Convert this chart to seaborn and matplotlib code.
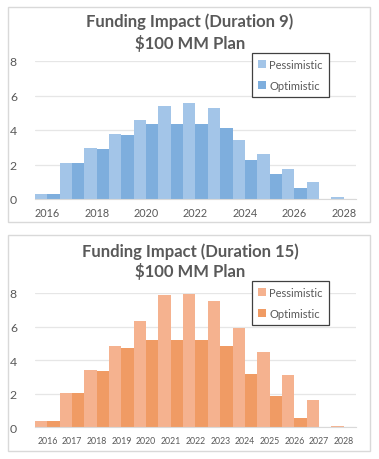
import pandas as pd
import seaborn as sns
import matplotlib.pyplot as plt
from matplotlib.patches import Rectangle

# Data
years = list(range(2016, 2029))

d9_pessimistic = [0.27, 2.10, 2.94, 3.77, 4.58, 5.40, 5.54, 5.25, 3.42, 2.60, 1.75, 0.96, 0.13]
d9_optimistic = [0.27, 2.10, 2.88, 3.69, 4.37, 4.37, 4.37, 4.10, 2.25, 1.46, 0.65, 0.0, 0.0]

d15_pessimistic = [0.36, 2.04, 3.39, 4.84, 6.31, 7.86, 7.94, 7.54, 5.89, 4.50, 3.10, 1.63, 0.08]
d15_optimistic = [0.36, 2.04, 3.33, 4.70, 5.22, 5.22, 5.22, 4.82, 3.18, 1.88, 0.54, 0.0, 0.0]

scenarios = ['Pessimistic', 'Optimistic']
titles = [('Funding Impact (Duration 9)', '$100 MM Plan'),
          ('Funding Impact (Duration 15)', '$100 MM Plan')]

blue = ['#a3c5e8', '#7eaedd']
orange = ['#f5b28f', '#f09b64']

sns.set_style('white')
plt.rcParams['font.family'] = ['Lato', 'DejaVu Sans']
text_color = '#595959'


def long_df(pess, opt):
    df = pd.DataFrame({'Year': years * 2,
                       'Value': pess + opt,
                       'Scenario': ['Pessimistic'] * len(years) + ['Optimistic'] * len(years)})
    df['Year'] = df['Year'].astype(str)
    return df


fig = plt.figure(figsize=(3.79, 4.60), dpi=100)
W, H = 379, 460

# chart borders (pixel boxes converted to figure fractions)
for top, bottom in [(8, 223), (236, 452)]:
    fig.patches.append(Rectangle((8 / W, 1 - bottom / H), 362 / W, (bottom - top) / H,
                                 transform=fig.transFigure, fill=False,
                                 edgecolor='#d9d9d9', linewidth=1))

# (data, palette, y of 0 line, y of 8 line, legend top, tick step, x tick size, title rows) in pixels
panels = [
    (long_df(d9_pessimistic, d9_optimistic), blue, 200, 62, 54, 2, 7.8, (22, 44)),
    (long_df(d15_pessimistic, d15_optimistic), orange, 428.3, 294, 282, 1, 6.3, (252, 272)),
]

for i, (df, pal, y0, y8, leg_top, step, xfs, title_y) in enumerate(panels):
    ax = fig.add_axes([35 / W, 1 - y0 / H, 321 / W, (y0 - y8) / H])
    sns.barplot(data=df, x='Year', y='Value', hue='Scenario', hue_order=scenarios,
                palette=pal, saturation=1, width=1.0, gap=0, linewidth=0, ax=ax)
    ax.set_xlim(-0.5, len(years) - 0.5)
    ax.set_ylim(0, 8)
    ax.set_yticks([0, 2, 4, 6, 8])
    ax.set_xticks(range(0, len(years), step))
    ax.set_xticklabels([str(y) for y in years][::step])
    ax.grid(axis='y', color='#e6e6e6', linewidth=0.9)
    ax.set_axisbelow(True)
    for s in ['top', 'right', 'left']:
        ax.spines[s].set_visible(False)
    ax.spines['bottom'].set_color('#d9d9d9')
    ax.set_xlabel('')
    ax.set_ylabel('')
    ax.tick_params(axis='y', length=0, pad=13, labelsize=8.8, labelcolor=text_color)
    ax.tick_params(axis='x', length=0, pad=6, labelsize=xfs, labelcolor=text_color)

    leg = ax.legend(loc='upper left',
                    bbox_to_anchor=((252 - 35) / 321, 1 + (y8 - leg_top) / (y0 - y8)),
                    frameon=True, fancybox=False, fontsize=8, handlelength=0.7,
                    handleheight=0.7, handletextpad=0.3, labelspacing=0.85,
                    borderpad=0.55, borderaxespad=0)
    leg.get_frame().set_edgecolor('#404040')
    leg.get_frame().set_linewidth(0.9)
    leg.get_frame().set_alpha(1)
    for t in leg.get_texts():
        t.set_color(text_color)

    for line, ty in zip(titles[i], title_y):
        fig.text(190 / W, 1 - ty / H, line, ha='center', va='center',
                 fontsize=12, fontweight='bold', color=text_color)

fig.savefig('out.png', dpi=100)
